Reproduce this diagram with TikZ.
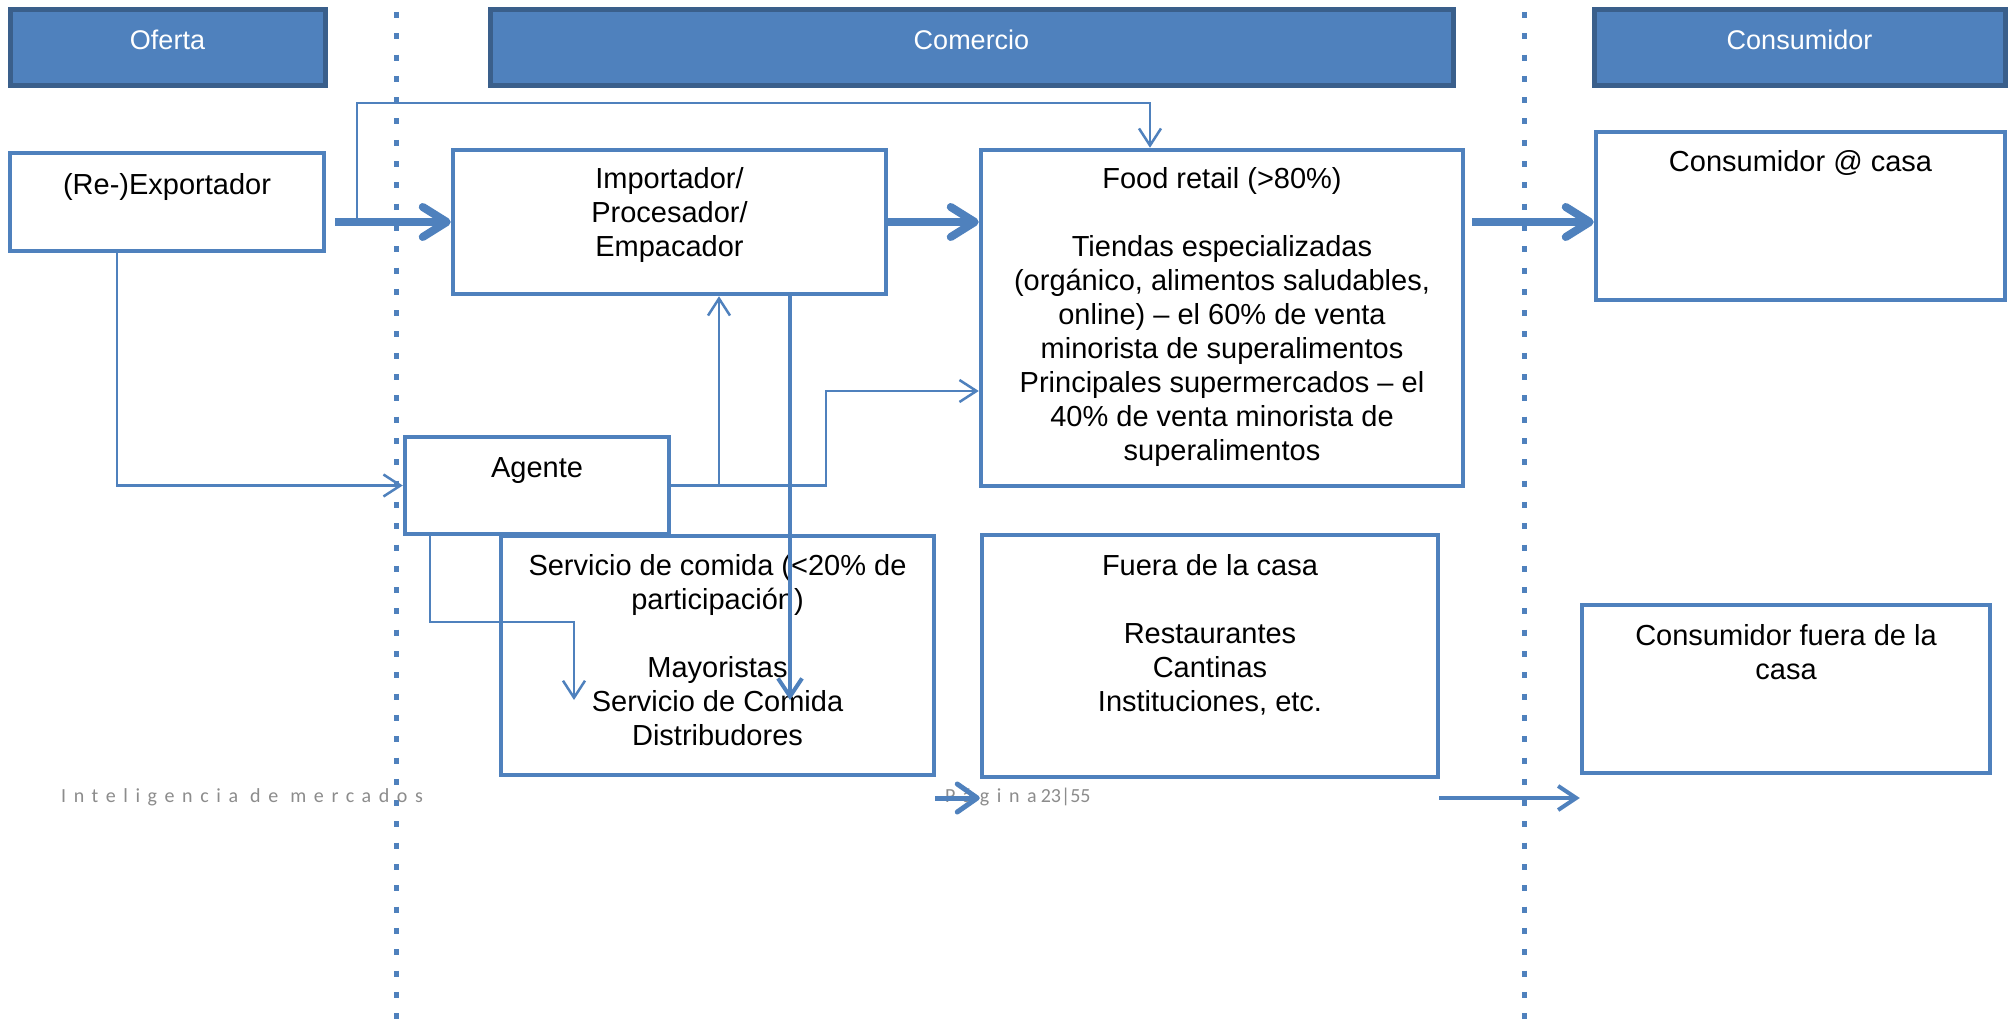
\documentclass[tikz,border=0pt]{standalone}
\usepackage{fontspec}
\setmainfont{Liberation Sans}
\newfontfamily\footls[LetterSpace=38]{Carlito}
\newfontfamily\footn{Carlito}
\usetikzlibrary{arrows.meta}
\definecolor{bb}{HTML}{4F81BD}
\definecolor{hb}{HTML}{3A5F8B}
\definecolor{ft}{HTML}{8C8C8C}
\begin{document}
\begin{tikzpicture}[x=1pt,y=-1pt,
  box/.style={draw=bb, line width=4.5pt, fill=white, inner sep=0pt},
  hdr/.style={draw=hb, fill=bb, line width=5pt, inner sep=0pt},
  txt/.style={font=\fontsize{29}{34}\selectfont, align=center, inner sep=0pt, anchor=north},
  stxt/.style={font=\fontsize{29}{34}\selectfont, inner sep=0pt, anchor=base},
  htxt/.style={font=\fontsize{27}{32}\selectfont, text=white, inner sep=0pt, anchor=base},
  conn/.style={draw=bb, line width=2.5pt, -{Straight Barb[length=17pt,width=22pt]}},
  thk/.style={draw=bb, line width=8pt, -{Straight Barb[length=24pt,width=30pt,round]}},
  med/.style={draw=bb, line width=4pt, -{Straight Barb[length=18pt,width=24pt]}},
  vsep/.style={draw=bb, line width=5pt, dash pattern=on 6pt off 15.3pt},
  foot/.style={text=ft, inner sep=0pt, anchor=base west}]
\useasboundingbox (0,0) rectangle (2011,1024);
\fill[white] (0,0) rectangle (2011,1024);
% separators
\draw[vsep] (396,12) -- (396,1024);
\draw[vsep] (1524,12) -- (1524,1024);
% headers
\node[hdr, minimum width=315pt, minimum height=76pt] (hof) at (167.5,48) {};
\node[hdr, minimum width=963pt, minimum height=76pt] (hco) at (971.5,48) {};
\node[hdr, minimum width=411pt, minimum height=76pt] (hcs) at (1799.5,48) {};
\node[htxt] (thof) at (167.5,50) {Oferta};
\node[htxt] (thco) at (971.5,50) {Comercio};
\node[htxt] (thcs) at (1799.5,50) {Consumidor};
% boxes
\node[box, minimum width=314pt, minimum height=98pt] (exp) at (167,202) {};
\node[box, minimum width=433pt, minimum height=144pt] (imp) at (669.5,222) {};
\node[box, minimum width=482pt, minimum height=336pt] (food) at (1222,318) {};
\node[box, minimum width=409pt, minimum height=168pt] (cons) at (1800.5,216) {};
\node[box, minimum width=433pt, minimum height=239pt] (srv) at (717.5,655.5) {};
\node[box, minimum width=264pt, minimum height=97pt] (agt) at (537,485.5) {};
\node[box, minimum width=456pt, minimum height=242pt] (fue) at (1210,656) {};
\node[box, minimum width=408pt, minimum height=168pt] (cfu) at (1786,689) {};
% texts
\node[stxt] (texp) at (167,195) {(Re-)Exportador};
\node[txt] (timp) at (669.5,164.2) {\strut Importador/\\Procesador/\\Empacador};
\node[txt] (tfood) at (1222,164.2) {\strut Food retail (>80\%)\\[34pt]Tiendas especializadas\\(orgánico, alimentos saludables,\\online) – el 60\% de venta\\minorista de superalimentos\\Principales supermercados – el\\40\% de venta minorista de\\superalimentos};
\node[stxt] (tcons) at (1800.5,172) {Consumidor @ casa};
\node[stxt] (tagt) at (537,477) {Agente};
\node[txt] (tsrv) at (717.5,551.2) {\strut Servicio de comida (<20\% de\\participación)\\[34pt]Mayoristas\\Servicio de Comida\\Distribudores};
\node[txt] (tfue) at (1210,551.2) {\strut Fuera de la casa\\[34pt]Restaurantes\\Cantinas\\Instituciones, etc.};
\node[txt] (tcfu) at (1786,621.2) {\strut Consumidor fuera de la\\casa};
% connectors
\draw[thk] ([xshift=9pt]exp.east |- imp.west) -- (imp.west);
\draw[thk] (imp.east) -- (imp.east -| food.west);
\draw[thk] ([xshift=7pt]imp.east -| food.east) -- (imp.east -| cons.west);
\coordinate (j1) at (357,222);
\coordinate (j1t) at (357,103);
\draw[conn] (j1) -- (j1t) -| ([xshift=-72pt]food.north);
\draw[conn] ([xshift=-50pt]exp.south) |- (agt.west);
\coordinate (k1) at (826,391);
\draw[conn] (agt.east) -| (k1) -- (k1 -| food.west);
\draw[conn] ([xshift=49.5pt]imp.south |- agt.east) -- ([xshift=49.5pt]imp.south);
\coordinate (m1) at (790,700);
\draw[med] ([xshift=120.5pt]imp.south) -- (m1);
\coordinate (n1) at (574,622);
\coordinate (n2) at (574,700);
\draw[conn] ([xshift=-107pt]agt.south) |- (n1) -- (n2);
% footer
\node[foot, font=\footls\fontsize{20}{23}\selectfont] (foot1) at (61,802) {Inteligencia de mercados};
\node[foot, font=\fontsize{20}{23}\selectfont] (foot2) at (945,802) {{\footls Página}\hspace{4pt}{\footn 23|55}};
\coordinate (f1) at (935,798);
\draw[draw=bb, line width=5pt, -{Straight Barb[length=20pt,width=28pt,round]}] (f1) -- (f1 -| fue.west);
\coordinate (f2) at (1439,798);
\draw[med] (f2) -- (f2 -| cfu.west);
\end{tikzpicture}
\end{document}
